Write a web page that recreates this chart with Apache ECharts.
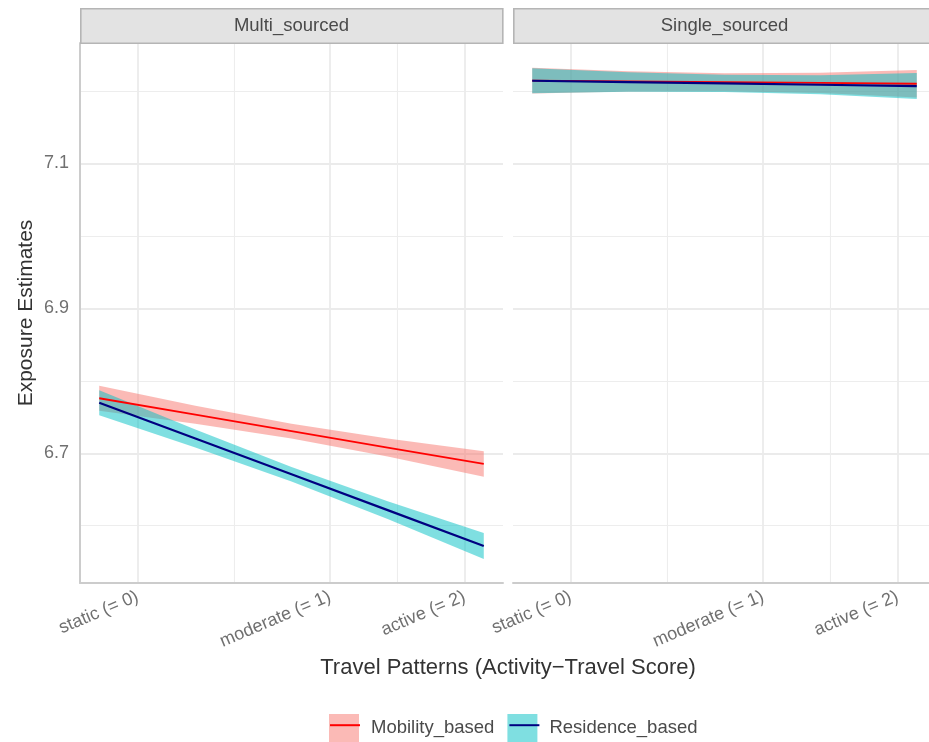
<!DOCTYPE html>
<html>
<head>
<meta charset="utf-8">
<script src="https://cdn.jsdelivr.net/npm/echarts@6/dist/echarts.min.js"></script>
<style>
  html, body { margin: 0; padding: 0; background: #ffffff; }
  #chart { width: 929px; height: 742px; }
</style>
</head>
<body>
<div id="chart"></div>
<script>
// Activity-travel score positions where the fitted values are evaluated
const xScore = [-0.2, 0.3, 0.8, 1.3, 1.8];

// Axis breaks
const xTickValues = [0, 1, 1.7];
const xTickLabels = ['static (= 0)', 'moderate (= 1)', 'active (= 2)'];
const xMinorValues = [0.5, 1.35];
const yTickValues = [6.7, 6.9, 7.1];
const yMinorValues = [6.6, 6.8, 7.0, 7.2];

// Facets and groups
const facets = ['Multi_sourced', 'Single_sourced'];
const groups = ['Mobility_based', 'Residence_based'];

// Multi_sourced: fitted exposure and confidence limits
const multiMobilityFit  = [6.7759, 6.7532, 6.7306, 6.7079, 6.6852];
const multiMobilityLow  = [6.7585, 6.7408, 6.7204, 6.6955, 6.6675];
const multiMobilityHigh = [6.7933, 6.7656, 6.7408, 6.7203, 6.7029];
const multiResidenceFit  = [6.7698, 6.7204, 6.6710, 6.6215, 6.5721];
const multiResidenceLow  = [6.7526, 6.7081, 6.6609, 6.6092, 6.5542];
const multiResidenceHigh = [6.7870, 6.7327, 6.6811, 6.6338, 6.5900];

// Single_sourced: fitted exposure and confidence limits
const singleMobilityFit  = [7.2140, 7.2130, 7.2119, 7.2109, 7.2098];
const singleMobilityLow  = [7.1963, 7.1990, 7.1994, 7.1969, 7.1909];
const singleMobilityHigh = [7.2317, 7.2270, 7.2244, 7.2249, 7.2287];
const singleResidenceFit  = [7.2139, 7.2121, 7.2103, 7.2084, 7.2066];
const singleResidenceLow  = [7.1966, 7.1986, 7.1983, 7.1954, 7.1887];
const singleResidenceHigh = [7.2312, 7.2256, 7.2223, 7.2214, 7.2245];

const FONT = '"Liberation Sans", Arial, Helvetica, sans-serif';
const bandColors = ['rgba(248,118,109,0.5)', 'rgba(0,191,196,0.5)'];
const lineColors = ['#ff0000', '#000080'];
const lineWidths = [1.8, 2.2];

const panelData = [
  [
    { fit: multiMobilityFit, low: multiMobilityLow, high: multiMobilityHigh },
    { fit: multiResidenceFit, low: multiResidenceLow, high: multiResidenceHigh }
  ],
  [
    { fit: singleMobilityFit, low: singleMobilityLow, high: singleMobilityHigh },
    { fit: singleResidenceFit, low: singleResidenceLow, high: singleResidenceHigh }
  ]
];

const CANVAS_W = 929;
const PANEL_W = 423, PANEL_H = 540, PANEL_TOP = 43;
const panelLeft = [80, 513];
const X_MIN = -0.3, X_MAX = 1.9;
const Y_MIN = 6.521, Y_MAX = 7.266;

// The second panel runs past the right edge of the canvas; keep the same
// scale by shrinking its visible width and its upper x limit together.
const panelVisibleW = panelLeft.map(l => Math.min(PANEL_W, CANVAS_W - l));
const panelXMax = panelVisibleW.map(w => X_MIN + (X_MAX - X_MIN) * w / PANEL_W);

function xLabel(v) {
  for (let i = 0; i < xTickValues.length; i++) {
    if (Math.abs(xTickValues[i] - v) < 1e-9) return xTickLabels[i];
  }
  return '';
}

// Ribbon polygon drawn once per series from all rows
function ribbon(params, api) {
  if (params.dataIndexInside !== 0) return null;
  const n = params.dataInsideLength;
  const upper = [], lower = [];
  for (let i = 0; i < n; i++) {
    const x = api.value(0, i);
    upper.push(api.coord([x, api.value(2, i)]));
    lower.push(api.coord([x, api.value(1, i)]));
  }
  return {
    type: 'polygon',
    shape: { points: upper.concat(lower.reverse()) },
    style: { fill: api.visual('color') },
    silent: true
  };
}

const grids = [], xAxes = [], yAxes = [], series = [], graphics = [];

facets.forEach((facet, p) => {
  grids.push({ left: panelLeft[p], top: PANEL_TOP, width: panelVisibleW[p], height: PANEL_H, containLabel: false });

  // major x axis with labels
  xAxes.push({
    type: 'value', gridIndex: p, min: X_MIN, max: panelXMax[p],
    axisLine: { show: true, onZero: false, lineStyle: { color: '#cccccc', width: 2 } },
    axisTick: { show: false, customValues: xTickValues },
    axisLabel: {
      customValues: xTickValues, formatter: xLabel, rotate: 23, margin: 13,
      color: '#707070', fontSize: 18, fontFamily: FONT
    },
    splitLine: { show: true, lineStyle: { color: '#ebebeb', width: 1.8 } }
  });
  // minor x grid
  xAxes.push({
    type: 'value', gridIndex: p, min: X_MIN, max: panelXMax[p],
    axisLine: { show: false, onZero: false }, axisLabel: { show: false },
    axisTick: { show: false, customValues: xMinorValues },
    splitLine: { show: true, lineStyle: { color: '#ededed', width: 1.1 } }
  });
  // major y axis
  yAxes.push({
    type: 'value', gridIndex: p, min: Y_MIN, max: Y_MAX, position: 'left',
    axisLine: { show: p === 0, onZero: false, lineStyle: { color: '#cccccc', width: 2 } },
    axisTick: { show: false, customValues: yTickValues },
    axisLabel: {
      show: p === 0, customValues: yTickValues, margin: 11,
      formatter: v => v.toFixed(1),
      color: '#707070', fontSize: 18, fontFamily: FONT
    },
    splitLine: { show: true, lineStyle: { color: '#ebebeb', width: 1.8 } },
    name: p === 0 ? 'Exposure Estimates' : '',
    nameLocation: 'middle', nameRotate: 90, nameGap: 43,
    nameTextStyle: { color: '#333333', fontSize: 21, fontFamily: FONT }
  });
  // minor y grid
  yAxes.push({
    type: 'value', gridIndex: p, min: Y_MIN, max: Y_MAX, position: 'left',
    axisLine: { show: false, onZero: false }, axisLabel: { show: false },
    axisTick: { show: false, customValues: yMinorValues },
    splitLine: { show: true, lineStyle: { color: '#ededed', width: 1.1 } }
  });

  // facet strip
  graphics.push({
    type: 'rect', left: panelLeft[p], top: 8, z: 10,
    shape: { width: PANEL_W - 1, height: 34.5 },
    style: { fill: '#e3e3e3', stroke: '#b5b5b5', lineWidth: 1.6 }
  });
  graphics.push({
    type: 'text', z: 11,
    x: panelLeft[p] + PANEL_W / 2, y: 26,
    style: {
      text: facet, fill: '#4a4a4a', font: '18.5px ' + FONT,
      align: 'center', verticalAlign: 'middle'
    }
  });
});

// ribbons first, then fitted lines on top
facets.forEach((facet, p) => {
  groups.forEach((g, k) => {
    const d = panelData[p][k];
    series.push({
      type: 'custom', name: g,
      xAxisIndex: 2 * p, yAxisIndex: 2 * p,
      renderItem: ribbon,
      itemStyle: { color: bandColors[k] },
      encode: { x: 0, y: [1, 2] },
      data: xScore.map((x, i) => [x, d.low[i], d.high[i]]),
      z: 2
    });
  });
});
facets.forEach((facet, p) => {
  groups.forEach((g, k) => {
    const d = panelData[p][k];
    series.push({
      type: 'line', name: g + ' fit',
      xAxisIndex: 2 * p, yAxisIndex: 2 * p,
      symbol: 'none', showSymbol: false,
      lineStyle: { color: lineColors[k], width: lineWidths[k] },
      itemStyle: { color: lineColors[k] },
      data: xScore.map((x, i) => [x, d.fit[i]]),
      z: 3
    });
  });
});

const legendCommon = {
  orient: 'horizontal', left: 329, top: 714, padding: 0,
  itemWidth: 30, itemHeight: 28, itemGap: 13,
  selectedMode: false
};

const option = {
  animation: false,
  backgroundColor: '#ffffff',
  textStyle: { fontFamily: FONT },
  grid: grids,
  xAxis: xAxes,
  yAxis: yAxes,
  title: {
    text: 'Travel Patterns (Activity\u2212Travel Score)',
    left: 503, top: 652, textAlign: 'center',
    textStyle: { color: '#333333', fontSize: 22, fontWeight: 'normal', fontFamily: FONT }
  },
  legend: [
    Object.assign({}, legendCommon, {
      data: groups.map(g => ({ name: g, icon: 'rect' })),
      textStyle: { color: '#4a4a4a', fontSize: 18.5, fontFamily: FONT, padding: [0, 0, 0, 7] }
    }),
    Object.assign({}, legendCommon, {
      data: groups.map(g => g + ' fit'),
      formatter: name => name.replace(' fit', ''),
      itemStyle: { opacity: 0 },
      textStyle: { color: 'rgba(0,0,0,0)', fontSize: 18.5, fontFamily: FONT, padding: [0, 0, 0, 7] }
    })
  ],
  graphic: graphics,
  series: series
};

const chart = echarts.init(document.getElementById('chart'), null, { renderer: 'canvas' });
chart.setOption(option);
</script>
</body>
</html>
